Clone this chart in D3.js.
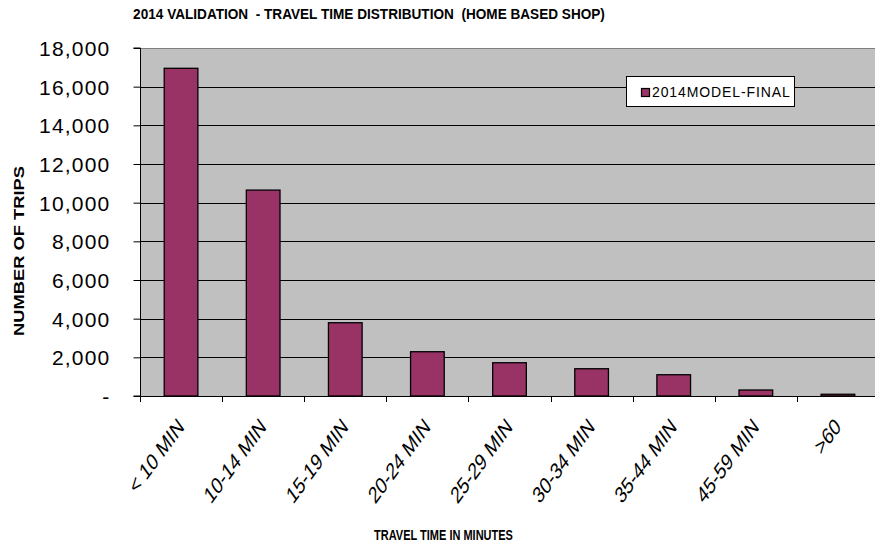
<!DOCTYPE html>
<html>
<head>
<meta charset="utf-8">
<script src="https://cdn.jsdelivr.net/npm/d3@7"></script>
<style>
  html, body { margin: 0; padding: 0; background: #fff; }
  svg { display: block; font-family: Arial, "Liberation Sans", sans-serif; }
</style>
</head>
<body>
<svg id="chart" width="875" height="550"></svg>
<script>
// Travel time bins and modelled trip counts
const categories = ["< 10 MIN", "10-14 MIN", "15-19 MIN", "20-24 MIN", "25-29 MIN", "30-34 MIN", "35-44 MIN", "45-59 MIN", ">60"];
const trips = [16950, 10650, 3790, 2290, 1720, 1410, 1100, 310, 90];
const yTicks = [0, 2000, 4000, 6000, 8000, 10000, 12000, 14000, 16000, 18000];
const seriesName = "2014MODEL-FINAL";

const svg = d3.select("#chart");
const plot = { left: 140, top: 48, right: 879, bottom: 396 };
const barColor = "#993366";

const x = d3.scaleBand().domain(categories).range([plot.left, plot.right]).paddingInner(0.59).paddingOuter(0.295);
const xBin = d3.scaleBand().domain(categories).range([plot.left, plot.right]);
const y = d3.scaleLinear().domain([0, 18000]).range([plot.bottom, plot.top]);

// plot background
svg.append("rect")
  .attr("x", plot.left).attr("y", plot.top)
  .attr("width", plot.right - plot.left).attr("height", plot.bottom - plot.top)
  .attr("fill", "#c0c0c0");
svg.append("line")
  .attr("x1", plot.left).attr("x2", plot.right)
  .attr("y1", plot.top + 0.5).attr("y2", plot.top + 0.5)
  .attr("stroke", "#808080").attr("stroke-width", 1);

// horizontal gridlines
svg.append("g").selectAll("line")
  .data(yTicks.filter(d => d > 0 && d < 18000))
  .join("line")
  .attr("x1", plot.left).attr("x2", plot.right)
  .attr("y1", d => Math.round(y(d)) + 0.5).attr("y2", d => Math.round(y(d)) + 0.5)
  .attr("stroke", "#000").attr("stroke-width", 1.2);

// bars
svg.append("g").selectAll("rect")
  .data(trips)
  .join("rect")
  .attr("x", (d, i) => x(categories[i]))
  .attr("y", d => y(d))
  .attr("width", x.bandwidth())
  .attr("height", d => plot.bottom - y(d))
  .attr("fill", barColor)
  .attr("stroke", "#000")
  .attr("stroke-width", 1.3);

// y axis
const yAxis = d3.axisLeft(y).tickValues(yTicks).tickSize(7).tickPadding(23)
  .tickFormat(d => d === 0 ? "-" : d3.format(",")(d));
const gy = svg.append("g").attr("transform", `translate(${plot.left + 0.5},0)`).call(yAxis);
gy.select(".domain").attr("stroke", "#000").attr("d", `M-7,${plot.top}H0V${plot.bottom}H-7`);
gy.selectAll(".tick line").attr("stroke", "#000");
gy.selectAll(".tick text")
  .attr("font-size", 21).attr("fill", "#000").attr("letter-spacing", 1.2)
  .attr("font-family", "Arial, 'Liberation Sans', sans-serif")
  .attr("dy", "0.36em");

// x axis: tick marks at bin boundaries, slanted labels under each bin
const gx = svg.append("g");
gx.append("line")
  .attr("x1", plot.left).attr("x2", plot.right)
  .attr("y1", plot.bottom + 0.5).attr("y2", plot.bottom + 0.5)
  .attr("stroke", "#000");
gx.selectAll("line.tk")
  .data(categories)
  .join("line").attr("class", "tk")
  .attr("x1", d => Math.round(xBin(d)) + 0.5).attr("x2", d => Math.round(xBin(d)) + 0.5)
  .attr("y1", plot.bottom).attr("y2", plot.bottom + 6)
  .attr("stroke", "#000");
gx.selectAll("text")
  .data(categories)
  .join("text")
  .attr("transform", d => `translate(${xBin(d) + xBin.bandwidth() / 2 + 4},${plot.bottom + 32}) scale(1,1.37) rotate(-45)`)
  .attr("text-anchor", "end")
  .attr("font-size", 17)
  .attr("fill", "#000")
  .text(d => d);

// titles
svg.append("text")
  .attr("transform", "translate(369,19) scale(1,1.05)")
  .attr("text-anchor", "middle")
  .attr("font-size", 13.6).attr("font-weight", "bold")
  .attr("xml:space", "preserve").style("white-space", "pre")
  .text("2014 VALIDATION  - TRAVEL TIME DISTRIBUTION  (HOME BASED SHOP)");

svg.append("text")
  .attr("transform", "translate(443.5,540) scale(1,1.3)")
  .attr("text-anchor", "middle")
  .attr("font-size", 11).attr("font-weight", "bold")
  .text("TRAVEL TIME IN MINUTES");

svg.append("text")
  .attr("transform", "translate(24,251) rotate(-90) scale(1.31,1)")
  .attr("text-anchor", "middle")
  .attr("font-size", 14).attr("font-weight", "bold")
  .text("NUMBER OF TRIPS");

// legend
const lg = svg.append("g").attr("transform", "translate(626,76)");
lg.append("rect").attr("x", 0.5).attr("y", 0.5).attr("width", 168).attr("height", 30)
  .attr("fill", "#fff").attr("stroke", "#000");
lg.append("rect").attr("x", 15.5).attr("y", 12.5).attr("width", 8).attr("height", 8)
  .attr("fill", barColor).attr("stroke", "#000").attr("stroke-width", 1.2);
lg.append("text").attr("x", 26).attr("y", 21)
  .attr("font-size", 14).attr("fill", "#000").attr("letter-spacing", 0.9)
  .text(seriesName);
</script>
</body>
</html>
